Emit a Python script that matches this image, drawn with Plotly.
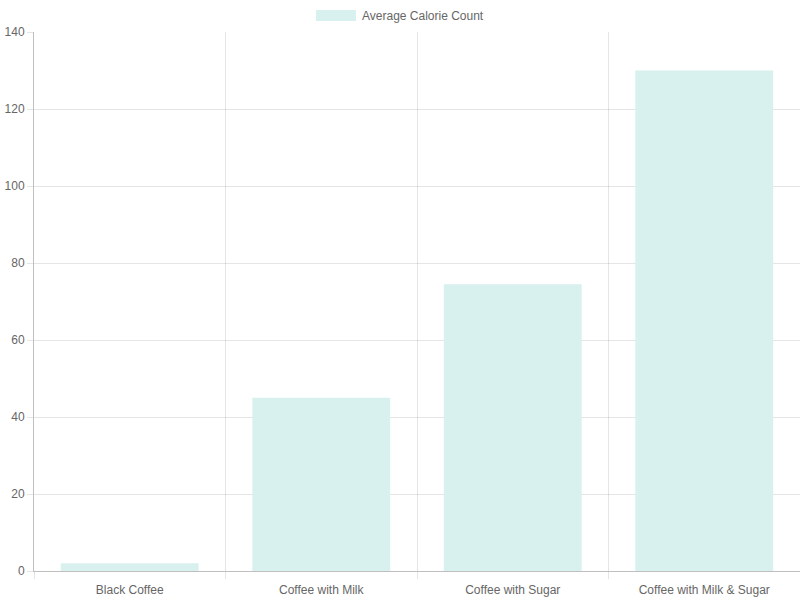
import plotly.graph_objects as go

categories = ["Black Coffee", "Coffee with Milk", "Coffee with Sugar", "Coffee with Milk & Sugar"]
calories = [2, 45, 74.5, 130]
series_name = "Average Calorie Count"
y_ticks = [0, 20, 40, 60, 80, 100, 120, 140]

fill = "#d9f1ee"
font = dict(family="Liberation Sans, Arial, sans-serif", size=12, color="#666")

fig = go.Figure()
fig.add_trace(go.Bar(x=categories, y=calories, name=series_name,
                     marker=dict(color=fill, line=dict(width=0)),
                     showlegend=False))

fig.update_layout(
    width=800, height=600,
    margin=dict(l=34, r=0, t=32, b=29),
    paper_bgcolor="white", plot_bgcolor="white",
    font=font, bargap=0.28,
    xaxis=dict(tickson="boundaries", ticks="outside", ticklen=7, tickcolor="rgba(0,0,0,0.1)",
               showgrid=True, gridcolor="rgba(0,0,0,0.1)", gridwidth=1,
               showline=True, linecolor="rgba(0,0,0,0.25)", linewidth=1,
               ticklabelstandoff=8, tickfont=font),
    yaxis=dict(range=[0, 140], tickvals=y_ticks, ticks="outside", ticklen=6,
               tickcolor="rgba(0,0,0,0.1)",
               showgrid=True, gridcolor="rgba(0,0,0,0.1)", gridwidth=1,
               zeroline=False, showline=True, linecolor="rgba(0,0,0,0.25)", linewidth=1,
               tickfont=font),
)

# Custom legend (Chart.js style wide box)
fig.add_shape(type="rect", xref="paper", yref="paper",
              x0=(316 - 34) / 766, x1=(356 - 34) / 766,
              y0=1 + (32 - 21) / 539, y1=1 + (32 - 10) / 539,
              fillcolor=fill, line=dict(width=0))
fig.add_annotation(xref="paper", yref="paper", x=(360 - 34) / 766, y=1 + (32 - 15.5) / 539,
                   text=series_name, showarrow=False, xanchor="left", yanchor="middle",
                   font=font)

fig.write_html("out.html")
